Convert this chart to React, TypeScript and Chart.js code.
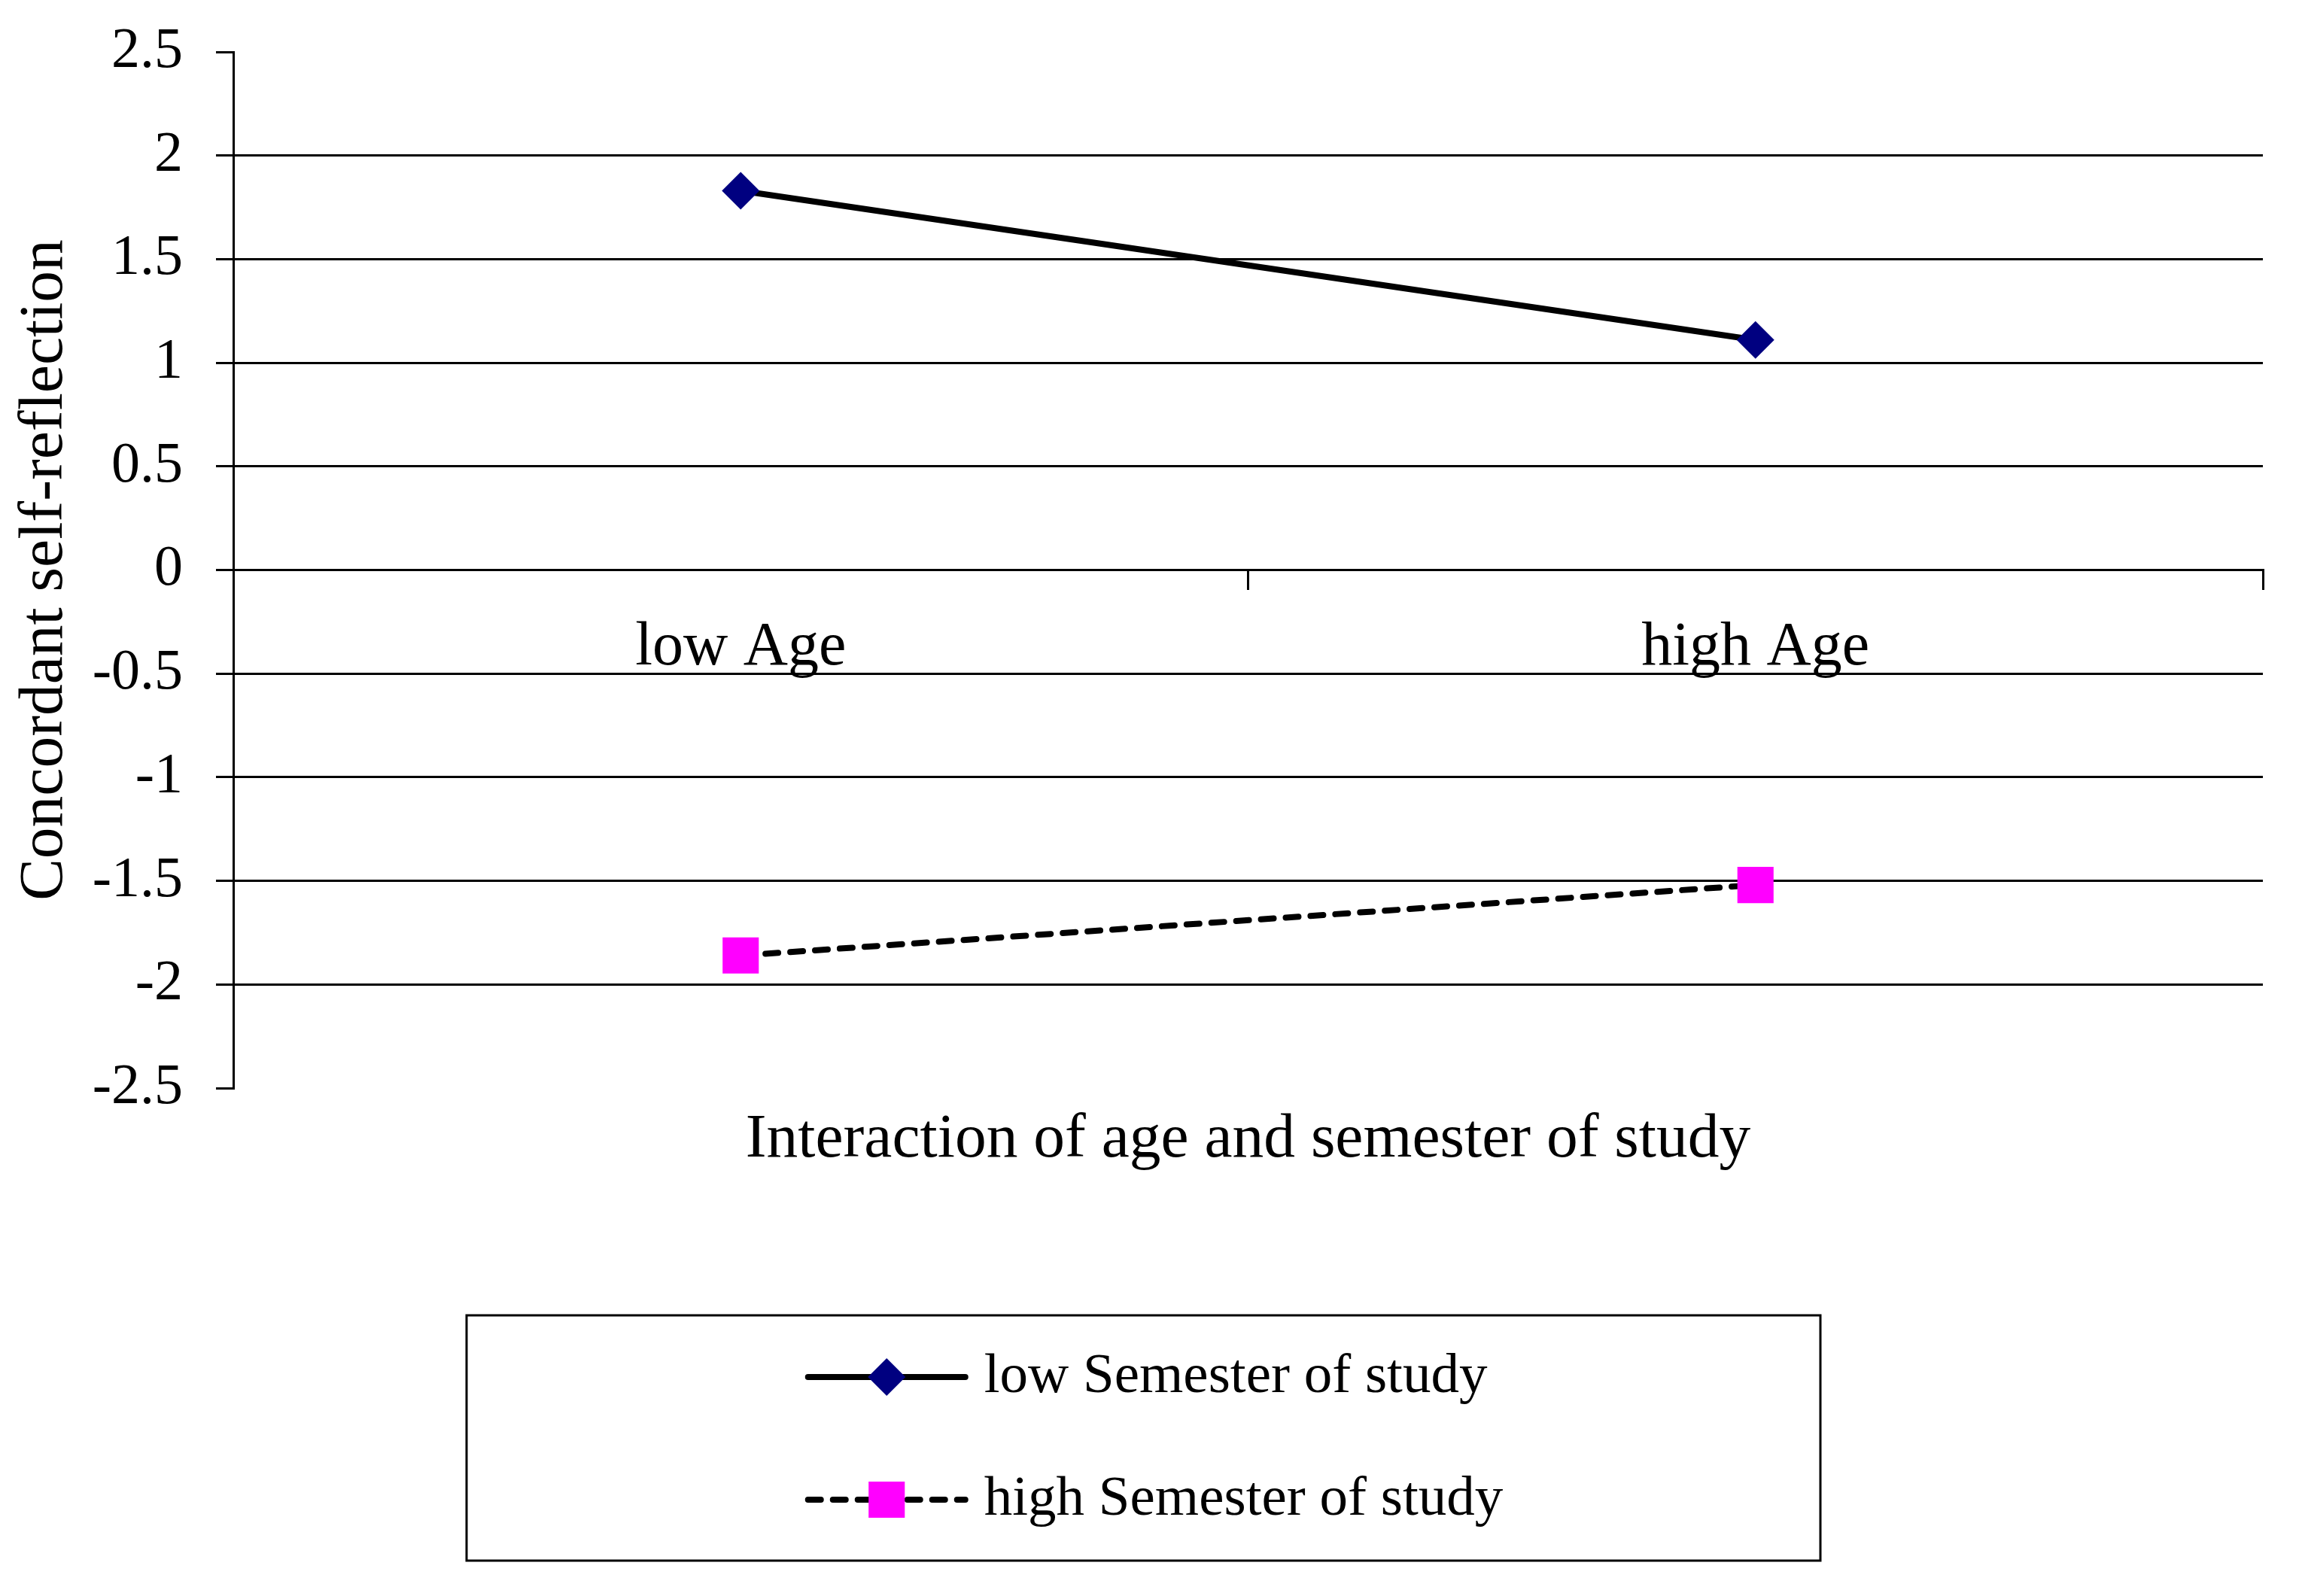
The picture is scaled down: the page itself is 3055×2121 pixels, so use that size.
import React, { useEffect, useRef } from "react";
import { Chart, registerables } from "chart.js";

Chart.register(...registerables);

// ---- data ----
const categories = ["low Age", "high Age"];
const seriesNames = ["low Semester of study", "high Semester of study"];
const lowSemesterValues = [1.83, 1.11];
const highSemesterValues = [-1.86, -1.52];
const yTickValues = [-2.5, -2, -1.5, -1, -0.5, 0, 0.5, 1, 1.5, 2, 2.5];
const yTickLabels = ["-2.5", "-2", "-1.5", "-1", "-0.5", "0", "0.5", "1", "1.5", "2", "2.5"];
const yAxisTitle = "Concordant self-reflection";
const xAxisTitle = "Interaction of age and semester of study";

const W = 3055;
const H = 2121;
const FONT = "'Liberation Serif', 'Times New Roman', Times, serif";

const boxLegendPlugin = {
  id: "boxLegend",
  afterDraw(chart: any) {
    const ctx = chart.ctx as CanvasRenderingContext2D;
    const boxW = 1799;
    const boxH = 326;
    const left = (chart.width - boxW) / 2 - 8;
    const top = chart.height - 47 - boxH;
    ctx.save();
    ctx.strokeStyle = "#000";
    ctx.lineWidth = 3;
    ctx.setLineDash([]);
    ctx.strokeRect(left, top, boxW, boxH);
    ctx.font = `75px ${FONT}`;
    const sampleW = 217;
    const gap = 21;
    const textW = Math.max(
      ...chart.data.datasets.map((d: any) => ctx.measureText(d.label).width)
    );
    const groupW = sampleW + gap + textW;
    const gx = left + (boxW - groupW) / 2 + 14;
    const rows = [top + 82, top + 245];
    chart.data.datasets.forEach((ds: any, i: number) => {
      const y = rows[i];
      ctx.beginPath();
      ctx.setLineDash(ds.borderDash || []);
      ctx.lineCap = "round";
      ctx.lineWidth = ds.borderWidth;
      ctx.strokeStyle = ds.borderColor;
      ctx.moveTo(gx + 4, y);
      ctx.lineTo(gx + sampleW - 4, y);
      ctx.stroke();
      ctx.setLineDash([]);
      const cx = gx + sampleW / 2;
      ctx.fillStyle = ds.pointBackgroundColor;
      const r = ds.pointRadius;
      if (ds.pointStyle === "rectRot") {
        ctx.beginPath();
        ctx.moveTo(cx - r, y);
        ctx.lineTo(cx, y - r);
        ctx.lineTo(cx + r, y);
        ctx.lineTo(cx, y + r);
        ctx.closePath();
        ctx.fill();
      } else {
        const s = r * Math.SQRT1_2;
        ctx.fillRect(cx - s, y - s, 2 * s, 2 * s);
      }
      ctx.fillStyle = "#000";
      ctx.textBaseline = "middle";
      ctx.textAlign = "left";
      ctx.fillText(ds.label, gx + sampleW + gap, y);
    });
    ctx.restore();
  },
};

export default function App() {
  const ref = useRef<HTMLCanvasElement>(null);

  useEffect(() => {
    if (!ref.current) return;
    const chart = new Chart(ref.current, {
      type: "line",
      data: {
        labels: categories,
        datasets: [
          {
            label: seriesNames[0],
            data: lowSemesterValues,
            borderColor: "#000000",
            borderWidth: 8,
            pointStyle: "rectRot",
            pointRadius: 25,
            pointHoverRadius: 25,
            pointBackgroundColor: "#000080",
            pointBorderColor: "#000080",
            pointBorderWidth: 0,
            fill: false,
            tension: 0,
          },
          {
            label: seriesNames[1],
            data: highSemesterValues,
            borderColor: "#000000",
            borderWidth: 8,
            borderDash: [17, 16],
            borderCapStyle: "round",
            pointStyle: "rect",
            pointRadius: 34,
            pointHoverRadius: 34,
            pointBackgroundColor: "#FF00FF",
            pointBorderColor: "#FF00FF",
            pointBorderWidth: 0,
            fill: false,
            tension: 0,
          },
        ],
      },
      options: {
        responsive: false,
        maintainAspectRatio: false,
        devicePixelRatio: 1,
        animation: false,
        layout: { padding: { top: 69, right: 48, bottom: 535, left: 0 } },
        plugins: {
          legend: { display: false },
          tooltip: { enabled: false },
          title: { display: false },
        },
        scales: {
          x: {
            type: "category",
            axis: "x",
            position: { y: 0 } as any,
            offset: true,
            grid: {
              display: true,
              drawOnChartArea: false,
              drawTicks: true,
              tickLength: 25,
              offset: true,
              color: "#000",
              tickColor: "#000",
              lineWidth: 3,
            },
            border: { display: true, color: "#000", width: 3 },
            ticks: {
              font: { family: FONT, size: 82 },
              color: "#000",
              padding: 30,
              maxRotation: 0,
              autoSkip: false,
            },
            afterFit(s: any) {
              s.paddingLeft = 0;
              s.paddingRight = 0;
              s.paddingTop = 0;
              s.paddingBottom = 0;
            },
          },
          x2: {
            type: "category",
            axis: "x",
            position: "bottom",
            labels: categories,
            grid: { display: false },
            border: { display: false },
            ticks: { display: false },
            title: {
              display: true,
              text: xAxisTitle,
              font: { family: FONT, size: 83.5 },
              color: "#000",
              padding: { top: 0, bottom: 21 },
            },
            afterFit(s: any) {
              s.height = 140;
              s.paddingLeft = 0;
              s.paddingRight = 0;
            },
          },
          y: {
            type: "linear",
            position: "left",
            min: -2.5,
            max: 2.5,
            ticks: {
              stepSize: 0.5,
              font: { family: FONT, size: 76 },
              color: "#000",
              padding: 44,
              callback: (value: any) => {
                const i = yTickValues.findIndex((v) => Math.abs(v - Number(value)) < 1e-9);
                return i >= 0 ? yTickLabels[i] : "";
              },
            },
            grid: {
              color: (c: any) =>
                c.tick && Math.abs(Math.abs(c.tick.value) - 2.5) < 1e-9 ? "rgba(0,0,0,0)" : "#000",
              tickColor: "#000",
              lineWidth: 3,
              tickLength: 23,
              drawTicks: true,
            },
            border: { display: true, color: "#000", width: 3 },
            title: {
              display: true,
              text: yAxisTitle,
              font: { family: FONT, size: 83.5 },
              color: "#000",
              padding: { top: 10, bottom: 0 },
            },
            afterFit(s: any) {
              s.width = 310;
              s.paddingTop = 0;
              s.paddingBottom = 0;
            },
          },
        },
      } as any,
      plugins: [boxLegendPlugin],
    });
    return () => chart.destroy();
  }, []);

  return (
    <div style={{ position: "fixed", left: 0, top: 0, width: W, height: H, background: "#fff" }}>
      <canvas ref={ref} width={W} height={H} style={{ width: W, height: H, display: "block" }} />
    </div>
  );
}
